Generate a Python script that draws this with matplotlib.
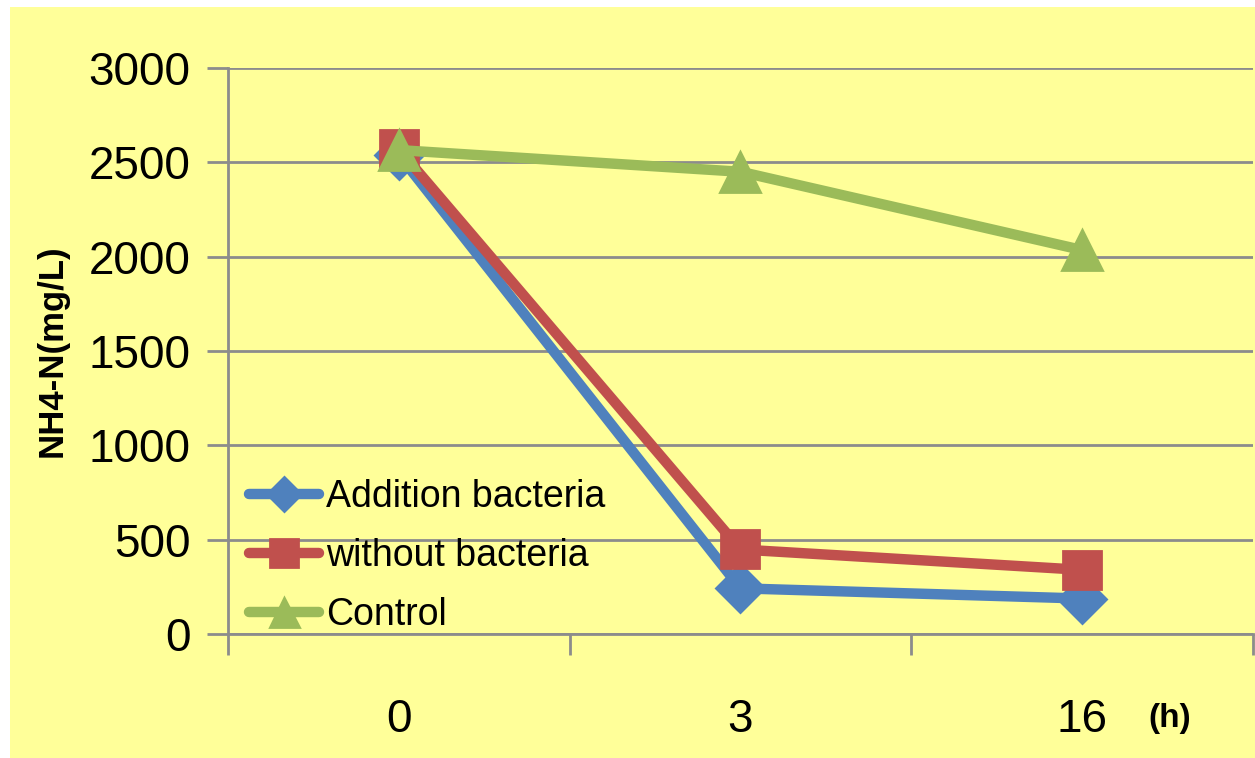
"""NH4-N concentration over time for the three treatments."""

import matplotlib

matplotlib.use("Agg")
import matplotlib.pyplot as plt

hours = ["0", "3", "16"]
addition_bacteria = [2540, 242, 188]
without_bacteria = [2570, 448, 340]
control = [2565, 2450, 2035]

BG = "#FFFF99"
GRID = "#8C8C8C"

plt.rcParams["font.family"] = ["Liberation Sans", "DejaVu Sans"]

fig = plt.figure(figsize=(12.55, 7.58), dpi=100)
fig.patch.set_facecolor("white")
# yellow chart area with a thin white margin at the top and left
fig.patches.append(
    plt.Rectangle((10 / 1255, 0), 1, 1 - 7 / 758, transform=fig.transFigure,
                  facecolor=BG, edgecolor="none", zorder=-10)
)

ax = fig.add_axes([228 / 1255, 1 - 634 / 758, 1025 / 1255, 566 / 758])
ax.set_facecolor(BG)

x = range(len(hours))
series = [
    ("Addition bacteria", addition_bacteria, "#4F81BD", "D", 24),
    ("without bacteria", without_bacteria, "#C0504D", "s", 28),
    ("Control", control, "#9BBB59", "^", 29),
]
for label, values, color, marker, size in series:
    ax.plot(x, values, color=color, lw=7.5, marker=marker, markersize=size,
            markeredgewidth=2, markeredgecolor=color, label=label,
            solid_capstyle="round", solid_joinstyle="round", clip_on=False)

ax.set_xlim(-0.5, 2.5)
ax.set_ylim(0, 3000)
ax.set_yticks(range(0, 3001, 500))
ax.yaxis.grid(True, color=GRID, lw=2)
ax.set_axisbelow(True)

ax.set_xticks([-0.5, 0.5, 1.5, 2.5])
ax.set_xticklabels([])
ax.set_xticks(list(x), minor=True)
ax.set_xticklabels(hours, minor=True)
ax.tick_params(axis="x", which="major", length=15, width=2, color=GRID)
ax.tick_params(axis="x", which="minor", length=0, pad=46, labelsize=33)
ax.tick_params(axis="y", length=15, width=2, color=GRID, labelsize=33, pad=12)

for side in ("top", "right"):
    ax.spines[side].set_visible(False)
for side in ("left", "bottom"):
    ax.spines[side].set_color(GRID)
    ax.spines[side].set_linewidth(2)

ax.set_ylabel("NH4-N(mg/L)", fontsize=25, fontweight="bold", labelpad=14)
fig.text(1170 / 1255, 1 - 718 / 758, "(h)", fontsize=24, fontweight="bold",
         ha="center", va="center")

ax.legend(loc="lower left", bbox_to_anchor=(-0.005, -0.045), frameon=False,
          fontsize=27, handlelength=1.85, handletextpad=0.2, labelspacing=0.62,
          markerscale=0.72, borderaxespad=0.3)

fig.savefig("out.png", dpi=100, facecolor=fig.get_facecolor())
